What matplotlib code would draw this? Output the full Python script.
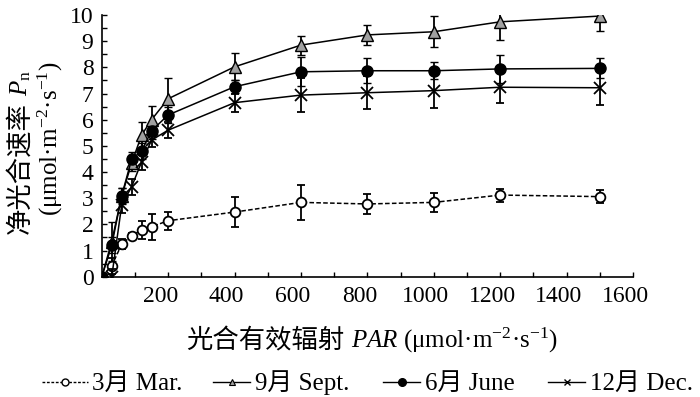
import numpy as np
import matplotlib
matplotlib.use("Agg")
import matplotlib.pyplot as plt
import matplotlib.transforms as mtrans
from matplotlib.lines import Line2D
from matplotlib.ticker import MultipleLocator, FixedLocator

plt.rcParams['font.family'] = ['Liberation Serif', 'Noto Sans CJK SC']
plt.rcParams['mathtext.fontset'] = 'custom'
plt.rcParams['mathtext.rm'] = 'Liberation Serif'
plt.rcParams['mathtext.it'] = 'Liberation Serif:italic'
plt.rcParams['axes.unicode_minus'] = True

par = [0, 30, 60, 90, 120, 150, 200, 400, 600, 800, 1000, 1200, 1500]

mar = [0, 0.42, 1.24, 1.57, 1.78, 1.91, 2.14, 2.47, 2.84, 2.78, 2.84, 3.12, 3.06]
mar_err = [0, 0.3, 0.2, 0.1, 0.34, 0.5, 0.35, 0.56, 0.68, 0.38, 0.36, 0.25, 0.24]

sept = [0, 1.34, 3.08, 4.35, 5.41, 6.0, 6.8, 8.02, 8.85, 9.24, 9.36, 9.74, 9.96]
sept_err = [0, 0.75, 0.32, 0.3, 0.5, 0.53, 0.79, 0.51, 0.36, 0.38, 0.59, 0.69, 0.56]

june = [0, 1.2, 3.1, 4.49, 4.8, 5.58, 6.18, 7.26, 7.83, 7.87, 7.87, 7.94, 7.96]
june_err = [0, 0.3, 0.3, 0.29, 0.3, 0.3, 0.3, 0.25, 0.55, 0.47, 0.32, 0.53, 0.38]

dec = [np.nan, 0.0, 2.74, 3.44, 4.39, 5.22, 5.6, 6.65, 6.94, 7.03, 7.11, 7.24, 7.22]
dec_err = [0, 0.3, 0.3, 0.3, 0.3, 0.25, 0.3, 0.34, 0.64, 0.64, 0.65, 0.6, 0.67]

labels = ['3月 Mar.', '9月 Sept.', '6月 June', '12月 Dec.']
xlabel_cn = '光合有效辐射'
xlabel_en = '$PAR$ (μmol·m$^{-2}$·s$^{-1}$)'
ylabel_cn = '净光合速率'
ylabel_sym = '$P_{\\mathrm{n}}$'
ylabel_unit = '(μmol·m$^{-2}$·s$^{-1}$)'

W, H = 700, 397
fig = plt.figure(figsize=(W / 100, H / 100), dpi=100)
ax = fig.add_axes([0.1454, 0.303, 0.9043 - 0.1454, 0.9622 - 0.303])

lw = 1.1
eb = dict(capsize=3.2, elinewidth=1.3, capthick=1.3, ecolor='black')

ax.errorbar(par, mar, yerr=mar_err, color='black', lw=lw, ls=(0, (3.0, 1.5)),
            marker='o', ms=7, mfc='white', mec='black', mew=1.3, **eb, zorder=3)
ax.errorbar(par, sept, yerr=sept_err, color='black', lw=lw, ls='-',
            marker='^', ms=9, mfc='#a0a0a0', mec='black', mew=1.0, **eb, zorder=4)
ax.errorbar(par, june, yerr=june_err, color='black', lw=lw, ls='-',
            marker='o', ms=8, mfc='black', mec='black', mew=1.0, **eb, zorder=4)
ax.errorbar(par, dec, yerr=dec_err, color='black', lw=lw, ls='-',
            marker='x', ms=8, mfc='black', mec='black', mew=1.3, **eb, zorder=4)

ax.set_xlim(0, 1600)
ax.set_ylim(0, 10)
ax.xaxis.set_major_locator(FixedLocator([200, 400, 600, 800, 1000, 1200, 1400, 1600]))
ax.xaxis.set_minor_locator(MultipleLocator(100))
ax.yaxis.set_major_locator(MultipleLocator(1))
ax.yaxis.set_minor_locator(MultipleLocator(0.5))
ax.tick_params(which='both', direction='in', length=3.5, width=1.0, labelsize=17)
ax.tick_params(axis='x', pad=7)
ax.tick_params(axis='y', pad=6)
for s in ['top', 'right']:
    ax.spines[s].set_visible(False)
for s in ['left', 'bottom']:
    ax.spines[s].set_linewidth(1.2)

off = mtrans.ScaledTranslation(-8 / 100, 0, fig.dpi_scale_trans)
for lab in ax.get_xticklabels():
    lab.set_transform(lab.get_transform() + off)


def fx(x):
    return x / W


def fy(y):
    return 1 - y / H


renderer = fig.canvas.get_renderer()
cjk = ['Noto Sans CJK SC']

# x label: Chinese part + Latin/math part, centred
t1 = fig.text(0, fy(348), xlabel_cn, fontsize=19, family=cjk, ha='left', va='baseline')
t2 = fig.text(0, fy(348), xlabel_en, fontsize=18, ha='left', va='baseline')
w1 = t1.get_window_extent(renderer).width
w2 = t2.get_window_extent(renderer).width
gap = 6
start = 372 - (w1 + gap + w2) / 2
t1.set_x(fx(start))
t2.set_x(fx(start + w1 + gap))

# y label line 1 (rotated)
bx = 27
t3 = fig.text(fx(bx), 0, ylabel_cn, fontsize=19, family=cjk, rotation=90,
              rotation_mode='anchor', ha='left', va='baseline')
t4 = fig.text(fx(bx), 0, ylabel_sym, fontsize=18, rotation=90,
              rotation_mode='anchor', ha='left', va='baseline')
h3 = t3.get_window_extent(renderer).height
h4 = t4.get_window_extent(renderer).height
ygap = 6
bottom = 152 + (h3 + ygap + h4) / 2
t3.set_y(fy(bottom))
t4.set_y(fy(bottom - h3 - ygap))

# y label line 2
fig.text(fx(50), fy(139), ylabel_unit, fontsize=18, rotation=90, ha='center', va='center')

# legend (manual layout)
handle_styles = [
    dict(ls=(0, (2, 1.2)), marker='o', ms=5, mfc='white', mec='black', mew=1.0),
    dict(ls='-', marker='^', ms=5, mfc='#a0a0a0', mec='black', mew=0.8),
    dict(ls='-', marker='o', ms=5.5, mfc='black', mec='black'),
    dict(ls='-', marker='x', ms=5, mec='black', mew=1.0),
]
handle_span = [(42, 88), (213, 250), (383, 420), (548, 585)]
text_start = [92, 255, 425, 590]
for lab, st, (h0, h1), ts in zip(labels, handle_styles, handle_span, text_start):
    ln = Line2D([fx(h0), fx((h0 + h1) / 2), fx(h1)], [fy(382)] * 3, transform=fig.transFigure,
                color='black', lw=1.0, markevery=[1], **st)
    fig.add_artist(ln)
    fig.text(fx(ts), fy(390), lab, fontsize=18, ha='left', va='baseline')

fig.savefig('out.png', dpi=100)
